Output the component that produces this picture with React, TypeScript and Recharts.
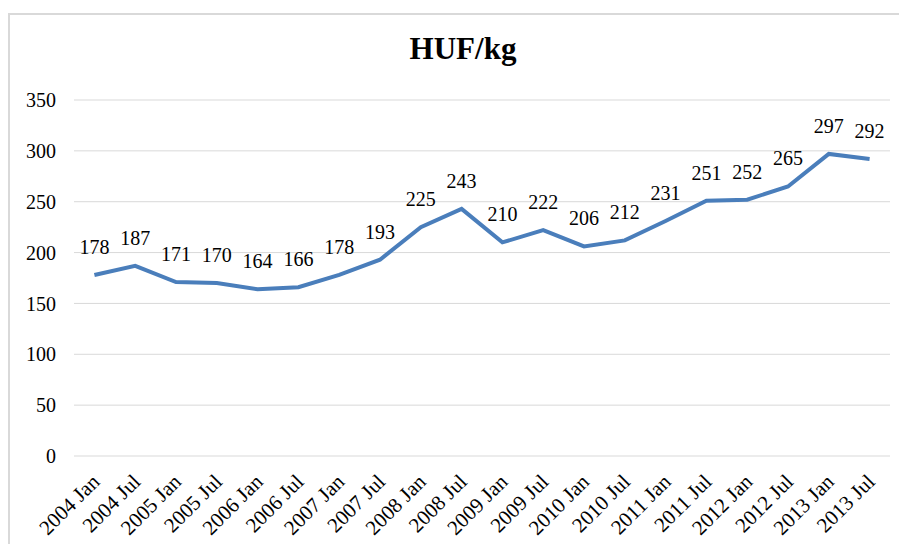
import React from 'react';
import { LineChart, Line, XAxis, YAxis, CartesianGrid, LabelList } from 'recharts';

const categories = [
  '2004 Jan', '2004 Jul', '2005 Jan', '2005 Jul', '2006 Jan', '2006 Jul', '2007 Jan', '2007 Jul',
  '2008 Jan', '2008 Jul', '2009 Jan', '2009 Jul', '2010 Jan', '2010 Jul', '2011 Jan', '2011 Jul',
  '2012 Jan', '2012 Jul', '2013 Jan', '2013 Jul',
];
const prices = [178, 187, 171, 170, 164, 166, 178, 193, 225, 243, 210, 222, 206, 212, 231, 251, 252, 265, 297, 292];
const yTicks = [0, 50, 100, 150, 200, 250, 300, 350];

const data = categories.map((c, i) => ({ period: c, value: prices[i] }));

const FONT = '"Liberation Serif", "Times New Roman", serif';

const XTick = (props: any) => {
  const { x, y, payload } = props;
  const tx = x + 6.5;
  const ty = y + 27;
  return (
    <text
      x={tx}
      y={ty}
      textAnchor="end"
      transform={`rotate(-45, ${tx}, ${ty})`}
      fontFamily={FONT}
      fontSize={21}
      fill="#000"
    >
      {payload.value}
    </text>
  );
};

export default function App() {
  return (
    <div style={{ position: 'absolute', left: 0, top: 0, width: 899, height: 544, overflow: 'hidden', background: '#fff' }}>
      <div
        style={{
          position: 'absolute', left: 8, top: 13, width: 920, height: 560,
          border: '2px solid #d9d9d9', boxSizing: 'border-box',
        }}
      />
      <div
        style={{
          position: 'absolute', left: 363, top: 30, width: 200, textAlign: 'center',
          fontFamily: FONT, fontWeight: 'bold', fontSize: 31, lineHeight: '38px', color: '#000',
        }}
      >
        HUF/kg
      </div>
      <div style={{ position: 'absolute', left: 0, top: 0 }}>
        <LineChart
          width={899}
          height={544}
          data={data}
          margin={{ top: 100, right: 9, bottom: 8, left: 0 }}
        >
          <CartesianGrid vertical={false} stroke="#d9d9d9" strokeWidth={1} />
          <XAxis
            dataKey="period"
            interval={0}
            axisLine={false}
            tickLine={false}
            tickSize={0}
            tickMargin={0}
            height={80}
            padding={{ left: 20.4, right: 20.4 }}
            tick={<XTick />}
          />
          <YAxis
            domain={[0, 350]}
            ticks={yTicks}
            width={74}
            axisLine={false}
            tickLine={false}
            tickMargin={12}
            tick={{ fontFamily: FONT, fontSize: 20, fill: '#000' }}
          />
          <Line
            type="linear"
            dataKey="value"
            stroke="#4a7ebb"
            strokeWidth={4}
            dot={false}
            activeDot={false}
            isAnimationActive={false}
          >
            <LabelList
              dataKey="value"
              position="top"
              offset={21}
              style={{ fontFamily: FONT, fontSize: 20, fill: '#000' }}
            />
          </Line>
        </LineChart>
      </div>
    </div>
  );
}
